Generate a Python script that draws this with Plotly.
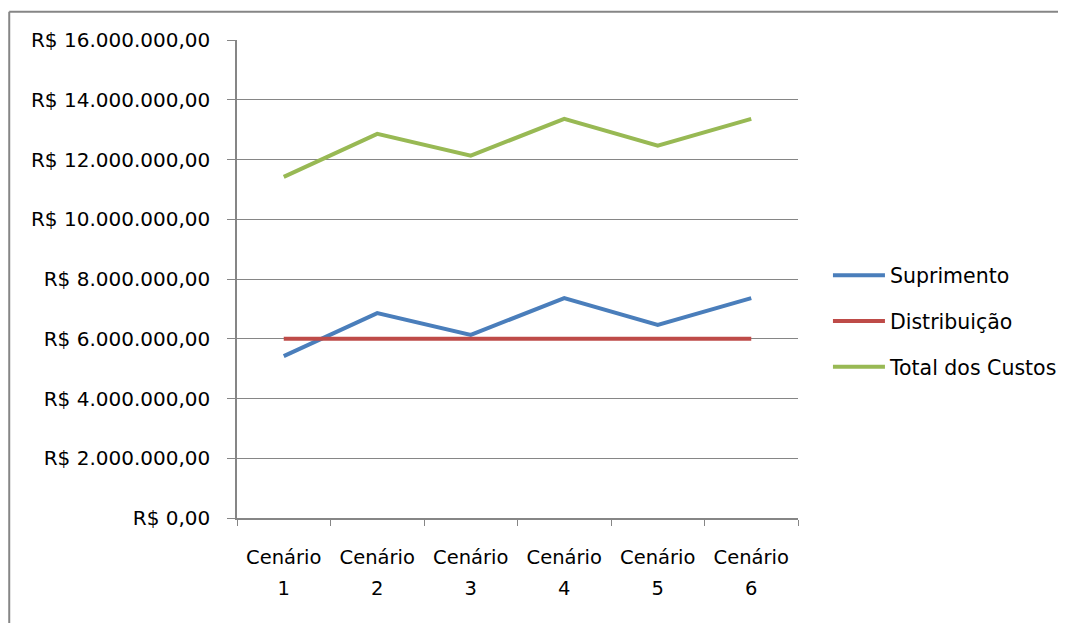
import plotly.graph_objects as go

# dados
cenarios = ["Cenário 1", "Cenário 2", "Cenário 3", "Cenário 4", "Cenário 5", "Cenário 6"]
rotulo_linha1 = ["Cenário", "Cenário", "Cenário", "Cenário", "Cenário", "Cenário"]
rotulo_linha2 = ["1", "2", "3", "4", "5", "6"]
suprimento = [5420000, 6860000, 6130000, 7360000, 6460000, 7360000]
distribuicao = [6000000, 6000000, 6000000, 6000000, 6000000, 6000000]
total = [11420000, 12860000, 12130000, 13360000, 12460000, 13360000]

ytick_vals = [0, 2000000, 4000000, 6000000, 8000000, 10000000, 12000000, 14000000, 16000000]
ytick_text = ["R$ 0,00", "R$ 2.000.000,00", "R$ 4.000.000,00", "R$ 6.000.000,00",
              "R$ 8.000.000,00", "R$ 10.000.000,00", "R$ 12.000.000,00",
              "R$ 14.000.000,00", "R$ 16.000.000,00"]

grid = "#868686"
fonte = "DejaVu Sans"

fig = go.Figure()
fig.add_trace(go.Scatter(x=cenarios, y=suprimento, name="Suprimento", mode="lines",
                         legendgroup="a", line=dict(color="#4A7EBB", width=4)))
fig.add_trace(go.Scatter(x=cenarios, y=distribuicao, name="Distribuição", mode="lines",
                         legendgroup="b", line=dict(color="#BE4B48", width=4)))
fig.add_trace(go.Scatter(x=cenarios, y=total, name="Total dos Custos", mode="lines",
                         legendgroup="c", line=dict(color="#98B954", width=4)))
# eixo auxiliar so para a segunda linha dos rotulos (1..6)
fig.add_trace(go.Scatter(x=cenarios, y=[None] * len(cenarios), xaxis="x2",
                         showlegend=False, hoverinfo="skip"))

fig.update_layout(
    width=1058, height=615,
    margin=dict(l=229, r=268, t=32, b=105),
    paper_bgcolor="white", plot_bgcolor="white",
    font=dict(family=fonte, size=18, color="black"),
    showlegend=True,
    legend=dict(xref="container", yref="container", x=0.775, y=0.491,
                xanchor="left", yanchor="middle",
                font=dict(size=20.5), traceorder="grouped", tracegroupgap=16,
                itemwidth=52, bgcolor="rgba(0,0,0,0)"),
    xaxis=dict(type="category", range=[-0.5, 5.5], tickvals=cenarios, ticktext=rotulo_linha1,
               showline=True, linecolor=grid, linewidth=1.5,
               ticks="outside", tickson="boundaries", ticklen=6, tickcolor=grid,
               showgrid=False, tickfont=dict(size=19.5), ticklabelstandoff=21),
    xaxis2=dict(type="category", overlaying="x", anchor="y", side="bottom",
                range=[-0.5, 5.5], tickvals=cenarios, ticktext=rotulo_linha2,
                showline=False, ticks="outside", ticklen=6, tickcolor="rgba(0,0,0,0)",
                showgrid=False, tickfont=dict(size=19.5), ticklabelstandoff=47),
    yaxis=dict(range=[0, 16000000], tickvals=ytick_vals, ticktext=ytick_text,
               showline=True, linecolor=grid, linewidth=1.5, ticks="outside",
               ticklen=8, tickcolor=grid, showgrid=True, gridcolor=grid, gridwidth=1,
               zeroline=False, tickfont=dict(size=20), ticklabelstandoff=13),
    shapes=[
        dict(type="line", xref="paper", yref="paper", x0=-0.406, x1=1.5, y0=1.059, y1=1.059,
             line=dict(color=grid, width=2)),
        dict(type="line", xref="paper", yref="paper", x0=-0.406, x1=-0.406, y0=-0.3, y1=1.059,
             line=dict(color=grid, width=2)),
    ],
)

fig.write_html("out.html")
